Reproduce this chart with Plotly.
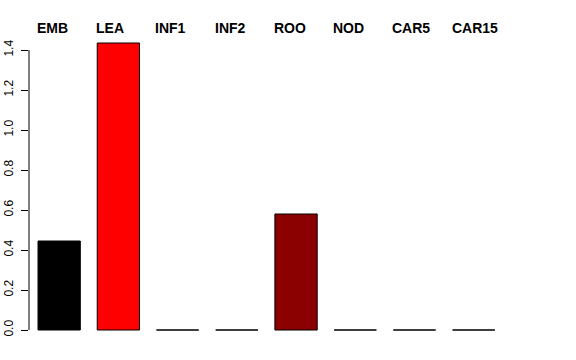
import plotly.graph_objects as go

categories = ["EMB", "LEA", "INF1", "INF2", "ROO", "NOD", "CAR5", "CAR15"]
values = [0.445, 1.435, 0.0, 0.0, 0.58, 0.0, 0.0, 0.0]
colors = ["black", "red", "green", "blue", "darkred", "orange", "purple", "gray"]
tick_vals = [0.0, 0.2, 0.4, 0.6, 0.8, 1.0, 1.2, 1.4]
tick_text = ["0.0", "0.2", "0.4", "0.6", "0.8", "1.0", "1.2", "1.4"]

space = 0.4
width = 1.0
lefts = [space + i * (width + space) for i in range(len(categories))]
centers = [l + width / 2 for l in lefts]

fig = go.Figure()
fig.add_trace(go.Bar(
    x=centers, y=values, width=width,
    marker=dict(color=colors, line=dict(color="black", width=1)),
    showlegend=False, hoverinfo="skip",
))

for cat, l in zip(categories, lefts):
    fig.add_annotation(x=l, y=1.0, xref="x", yref="paper", text="<b>" + cat + "</b>",
                       showarrow=False, xanchor="left", yanchor="bottom",
                       font=dict(size=14, color="black", family="Liberation Sans, Arial"),
                       xshift=-3, yshift=-6)

fig.add_shape(type="line", xref="paper", yref="y", x0=0, x1=0, y0=0, y1=1.4,
              line=dict(color="black", width=1))

fig.update_layout(
    width=576, height=360,
    margin=dict(l=29, r=47, t=32, b=18),
    plot_bgcolor="white", paper_bgcolor="white",
    font=dict(family="Liberation Sans, Arial", size=12, color="black"),
    xaxis=dict(range=[0.187, 12.007], showgrid=False, zeroline=False, showline=False,
               showticklabels=False, ticks="", automargin=False),
    yaxis=dict(range=[-0.06, 1.49], showgrid=False, zeroline=False, showline=False,
               tickvals=tick_vals, ticktext=tick_text, ticks="outside", ticklen=7,
               tickwidth=1, tickcolor="black", tickangle=-90, automargin=False,
               ticklabelstandoff=3,
               tickfont=dict(size=12, color="black")),
)

fig.write_html("out.html")
